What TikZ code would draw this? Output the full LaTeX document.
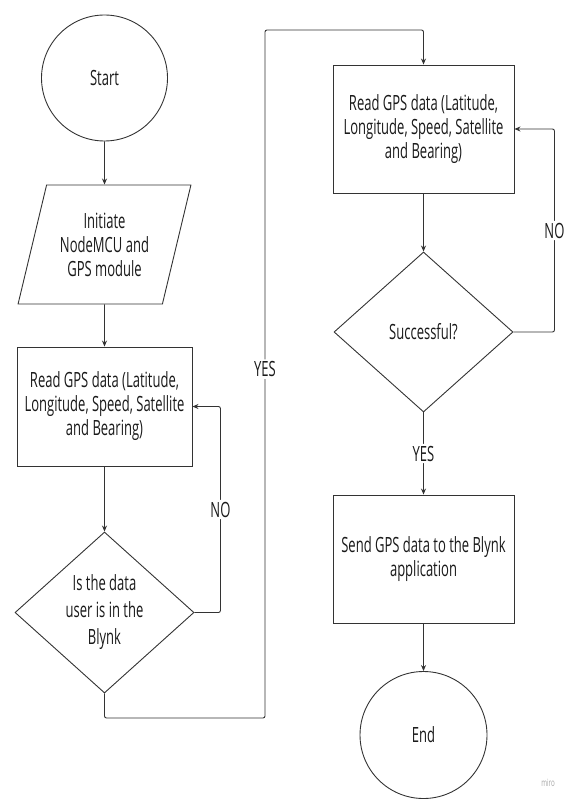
\documentclass[tikz,border=0pt]{standalone}
\usepackage{fontspec}
\setmainfont{Open Sans}[FakeStretch=0.62]
\usetikzlibrary{shapes.geometric,arrows.meta}
\definecolor{lin}{HTML}{333333}
\definecolor{txt}{HTML}{1A1A1A}
\tikzset{
  base/.style={draw=lin, line width=0.9pt, text=txt, inner sep=0pt, align=center,
    font=\fontsize{21}{24}\selectfont},
  term/.style={base, circle},
  io/.style={base, trapezium, trapezium left angle=71, trapezium right angle=109,
    trapezium stretches=true},
  proc/.style={base, rectangle},
  dec/.style={base, diamond},
  conn/.style={draw=lin, line width=0.9pt, rounded corners=2pt, -{Stealth[length=6pt,width=5pt]}},
  lbl/.style={fill=white, text=txt, inner sep=2pt, font=\fontsize{21}{24}\selectfont},
}
\begin{document}
\begin{tikzpicture}[x=1pt,y=-1pt]
\useasboundingbox (0,0) rectangle (567,799);
\node[term, minimum size=126pt] (start) at (104.5,78) {Start};
\node[io, minimum width=173pt, minimum height=119pt] (init) at (104.5,244.5) {Initiate\\NodeMCU and\\GPS module};
\node[proc, minimum width=175pt, minimum height=119pt] (read1) at (104.5,406.5) {Read GPS data (Latitude,\\Longitude, Speed, Satellite\\and Bearing)};
\node[dec, minimum width=179pt, minimum height=161pt, font=\fontsize{21}{27}\selectfont] (dec1) at (104.5,612.5) {Is the data\\user is in the\\Blynk};
\node[proc, minimum width=181pt, minimum height=128pt] (read2) at (423.5,129) {Read GPS data (Latitude,\\Longitude, Speed, Satellite\\and Bearing)};
\node[dec, minimum width=179pt, minimum height=160pt] (dec2) at (423.5,332) {Successful?};
\node[proc, minimum width=181pt, minimum height=128pt] (send) at (423.5,559) {Send GPS data to the Blynk\\application};
\node[term, minimum size=127pt] (end) at (423.5,735) {End};
\node[text=gray!70, inner sep=0pt, font=\fontsize{10}{12}\selectfont] (miro) at (548,783) {miro};
\coordinate (y1) at (265,718);
\coordinate (y2) at (265,30);

\draw[conn] (start) -- (init);
\draw[conn] (init) -- (read1);
\draw[conn] (read1) -- (dec1);
\draw[conn] (dec1.east) -- ++(26,0) |- node[lbl, pos=0.25] {NO} (read1.east);
\draw[conn] (dec1.south) |- (y1) -- node[lbl, pos=0.507] {YES} (y2) -| (read2.north);
\draw[conn] (read2) -- (dec2);
\draw[conn] (dec2.east) -- ++(41,0) |- node[lbl, pos=0.25] {NO} (read2.east);
\draw[conn] (dec2) -- node[lbl] {YES} (send);
\draw[conn] (send) -- (end);
\end{tikzpicture}
\end{document}
